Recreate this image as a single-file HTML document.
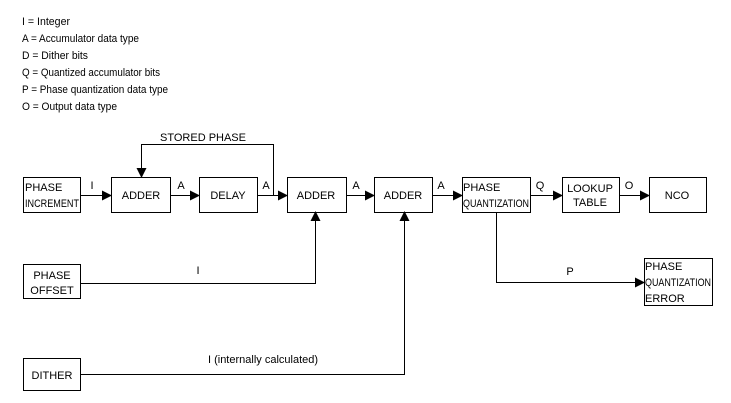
<!DOCTYPE html>
<html><head><meta charset="utf-8"><style>
html,body{margin:0;padding:0;background:#fff;}
svg{display:block;}
text{font-family:"Liberation Sans",sans-serif;font-size:11px;fill:#000;}
</style></head><body>
<svg width="731" height="403" viewBox="0 0 731 403" xmlns="http://www.w3.org/2000/svg">
<defs><marker id="a" markerWidth="10" markerHeight="10" refX="9" refY="5" orient="auto" markerUnits="userSpaceOnUse"><path d="M0,0 L10,5 L0,10 z" fill="#000"/></marker></defs>
<g>
<text x="22" y="25" textLength="48" lengthAdjust="spacingAndGlyphs">I = Integer</text>
<text x="22" y="42" textLength="117" lengthAdjust="spacingAndGlyphs">A = Accumulator data type</text>
<text x="22" y="59" textLength="66" lengthAdjust="spacingAndGlyphs">D = Dither bits</text>
<text x="22" y="76" textLength="138" lengthAdjust="spacingAndGlyphs">Q = Quantized accumulator bits</text>
<text x="22" y="93" textLength="146" lengthAdjust="spacingAndGlyphs">P = Phase quantization data type</text>
<text x="22" y="110" textLength="95" lengthAdjust="spacingAndGlyphs">O = Output data type</text>
</g>
<g fill="none" stroke="#000" stroke-width="1">
<rect x="23.5" y="177.5" width="57" height="35"/>
<rect x="111.5" y="177.5" width="59" height="35"/>
<rect x="199.5" y="177.5" width="58" height="35"/>
<rect x="287.5" y="177.5" width="59" height="35"/>
<rect x="374.5" y="177.5" width="58" height="35"/>
<rect x="462.5" y="177.5" width="68" height="35"/>
<rect x="562.5" y="177.5" width="57" height="35"/>
<rect x="649.5" y="177.5" width="57" height="35"/>
<rect x="644.5" y="258.5" width="68" height="47"/>
<rect x="23.5" y="264.5" width="57" height="34"/>
<rect x="23.5" y="358.5" width="57" height="32"/>
<path d="M80,195.5 H111" marker-end="url(#a)"/>
<path d="M170,195.5 H199" marker-end="url(#a)"/>
<path d="M257,195.5 H287" marker-end="url(#a)"/>
<path d="M346,195.5 H374" marker-end="url(#a)"/>
<path d="M432,195.5 H462" marker-end="url(#a)"/>
<path d="M530,195.5 H562" marker-end="url(#a)"/>
<path d="M619,195.5 H649" marker-end="url(#a)"/>
<path d="M273.5,195 V144.5 H141.5 V177" marker-end="url(#a)"/>
<path d="M80,283.5 H315.5 V212" marker-end="url(#a)"/>
<path d="M80,374.5 H404.5 V212" marker-end="url(#a)"/>
<path d="M496.5,212 V282.5 H644" marker-end="url(#a)"/>
</g>
<g text-anchor="middle">
<text x="141" y="199">ADDER</text>
<text x="228" y="199">DELAY</text>
<text x="316" y="199">ADDER</text>
<text x="403" y="199">ADDER</text>
<text x="590" y="192">LOOKUP</text>
<text x="590" y="206">TABLE</text>
<text x="677" y="199">NCO</text>
<text x="52" y="279">PHASE</text>
<text x="52" y="294">OFFSET</text>
<text x="52" y="379">DITHER</text>
<text x="203" y="141">STORED PHASE</text>
<text x="92" y="189">I</text>
<text x="181" y="189">A</text>
<text x="266" y="189">A</text>
<text x="356" y="189">A</text>
<text x="441" y="189">A</text>
<text x="540" y="189">Q</text>
<text x="629" y="189">O</text>
<text x="198" y="274">I</text>
<text x="570" y="275">P</text>
<text x="263" y="363">I (internally calculated)</text>
</g>
<g>
<text x="25" y="191">PHASE</text>
<text x="25" y="207" textLength="54" lengthAdjust="spacingAndGlyphs">INCREMENT</text>
<text x="463" y="191">PHASE</text>
<text x="463" y="207" textLength="66" lengthAdjust="spacingAndGlyphs">QUANTIZATION</text>
<text x="645" y="270">PHASE</text>
<text x="645" y="286" textLength="66" lengthAdjust="spacingAndGlyphs">QUANTIZATION</text>
<text x="645" y="302">ERROR</text>
</g>
</svg>
</body></html>
